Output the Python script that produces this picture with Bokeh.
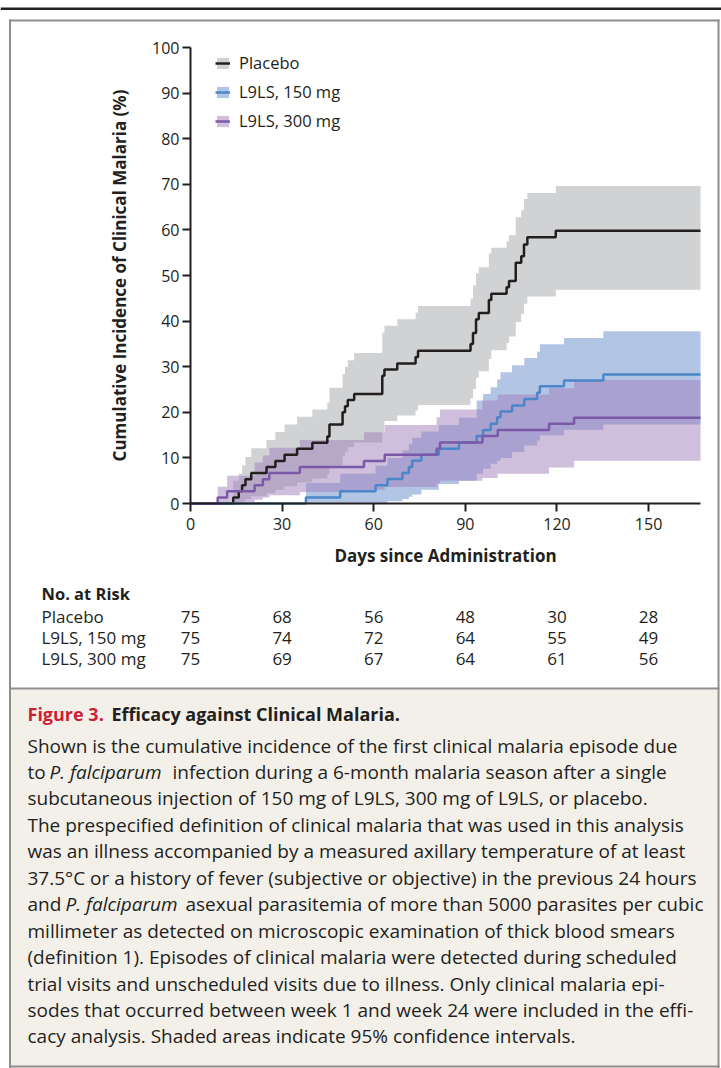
from bokeh.plotting import figure
from bokeh.models import Range1d, FixedTicker, Legend, LegendItem, LinearAxis
from bokeh.core.properties import value
from bokeh.embed import file_html
from bokeh.resources import INLINE

# ---------------- data ----------------
placebo_days = [0, 14.0, 15.8, 16.9, 18.0, 19.9, 24.9, 27.8, 30.8, 34.9, 39.9, 44.8, 45.5, 49.8, 50.6,
                51.5, 53.6, 62.8, 63.5, 67.7, 73.7, 74.5, 91.7, 92.5, 93.5, 94.4, 97.7, 98.5, 103.5,
                104.3, 106.5, 108.3, 109.2, 110.3, 119.6, 167]
placebo_est = [0, 1.3, 2.7, 4.0, 5.3, 6.7, 8.0, 9.3, 10.7, 12.0, 13.3, 14.7, 17.3, 20.0, 21.3,
               22.7, 24.0, 28.0, 29.4, 30.7, 32.1, 33.5, 35.0, 37.4, 40.4, 41.8, 44.6, 46.0, 47.4,
               48.8, 52.8, 54.2, 56.8, 58.4, 59.8, 59.8]
placebo_hi = [0, 5.0, 6.5, 8.4, 10.2, 12.1, 13.9, 15.7, 17.3, 19.0, 20.6, 22.1, 25.4, 28.4, 30.0,
              31.4, 33.0, 37.5, 39.0, 40.4, 41.9, 43.3, 44.9, 47.8, 50.5, 51.8, 54.8, 56.1, 57.5,
              58.8, 62.8, 64.3, 66.8, 68.1, 69.6, 69.6]
placebo_lo = [0, 0, 0.1, 0.5, 1.0, 1.6, 2.3, 3.0, 3.8, 4.6, 5.5, 6.4, 8.3, 10.4, 11.4,
              12.4, 13.4, 15.7, 18.1, 19.3, 20.4, 21.6, 23.0, 25.1, 27.6, 29.0, 31.7, 33.6, 35.2,
              36.6, 39.8, 41.6, 43.8, 45.4, 46.9, 46.9]

l150_days = [0, 37.8, 49.0, 60.6, 64.5, 69.4, 71.5, 72.6, 75.6, 81.3, 87.9, 93.7, 95.8, 98.3,
             100.4, 101.5, 105.3, 109.3, 113.5, 114.4, 122.3, 135.2, 167]
l150_est = [0, 1.3, 2.7, 4.0, 5.4, 6.7, 8.0, 9.4, 10.7, 12.0, 13.4, 14.8, 16.1, 17.5,
            18.9, 20.2, 21.5, 22.9, 24.3, 25.7, 27.0, 28.3, 28.3]
l150_hi = [0, 4.5, 6.5, 8.3, 10.0, 11.6, 13.0, 14.4, 15.8, 17.2, 18.8, 22.6, 24.0, 25.5,
           27.2, 28.8, 30.3, 31.9, 33.3, 34.9, 36.3, 37.8, 37.8]
l150_lo = [0, 0, 0, 0, 0.5, 1.0, 1.5, 2.0, 3.0, 4.3, 5.0, 6.5, 7.6, 8.7,
           9.4, 10.0, 11.3, 12.7, 13.8, 14.9, 16.2, 17.3, 17.3]

l300_days = [0, 8.9, 12.0, 21.0, 23.7, 25.8, 35.8, 56.8, 63.6, 80.6, 81.7, 95.6, 100.6, 117.4, 125.6, 167]
l300_est = [0, 1.3, 2.7, 4.0, 5.3, 6.7, 8.0, 9.3, 10.7, 12.0, 13.4, 14.8, 16.1, 17.5, 18.8, 18.8]
l300_hi = [0, 3.7, 6.1, 9.0, 10.5, 12.2, 13.9, 15.6, 17.2, 18.9, 20.6, 22.6, 23.9, 25.3, 27.1, 27.1]
l300_lo = [0, 0, 0.3, 0.8, 1.3, 1.8, 2.5, 3.0, 3.6, 4.4, 5.0, 5.6, 6.5, 7.9, 9.4, 9.4]

group_labels = ["Placebo", "L9LS, 150 mg", "L9LS, 300 mg"]
risk_days = [0, 30, 60, 90, 120, 150]
risk_placebo = [75, 68, 56, 48, 30, 28]
risk_150 = [75, 74, 72, 64, 55, 49]
risk_300 = [75, 69, 67, 64, 61, 56]
x_ticks = [0, 30, 60, 90, 120, 150]
y_ticks = [0, 10, 20, 30, 40, 50, 60, 70, 80, 90, 100]

caption_title = ["Figure 3.", "Efficacy against Clinical Malaria."]
caption_lines = [
    [("Shown is the cumulative incidence of the first clinical malaria episode due", "normal", 0)],
    [("to", "normal", 0), ("P. falciparum", "italic", 22), ("infection during a 6-month malaria season after a single", "normal", 145)],
    [("subcutaneous injection of 150 mg of L9LS, 300 mg of L9LS, or placebo.", "normal", 0)],
    [("The prespecified definition of clinical malaria that was used in this analysis", "normal", 0)],
    [("was an illness accompanied by a measured axillary temperature of at least", "normal", 0)],
    [("37.5\u00b0C or a history of fever (subjective or objective) in the previous 24 hours", "normal", 0)],
    [("and", "normal", 0), ("P. falciparum", "italic", 38), ("asexual parasitemia of more than 5000 parasites per cubic", "normal", 158)],
    [("millimeter as detected on microscopic examination of thick blood smears", "normal", 0)],
    [("(definition 1). Episodes of clinical malaria were detected during scheduled", "normal", 0)],
    [("trial visits and unscheduled visits due to illness. Only clinical malaria epi-", "normal", 0)],
    [("sodes that occurred between week 1 and week 24 were included in the effi-", "normal", 0)],
    [("cacy analysis. Shaded areas indicate 95% confidence intervals.", "normal", 0)],
]

# ---------------- layout / styling ----------------
FONT = "Open Sans"
INK = "#231f20"
GRAY = "#8e8e8e"
W, H = 721, 1068
AX_X0, AX_X1 = 190, 700      # canvas px of day 0 / day 167
AX_Y0, AX_Y100 = 503, 47     # canvas px of 0 % / 100 %
DAY_MAX = 167
px_day = (AX_X1 - AX_X0) / DAY_MAX
px_pct = (AX_Y0 - AX_Y100) / 100

p = figure(width=W, height=H, output_backend="svg", toolbar_location=None,
           x_axis_type=None, y_axis_type=None,
           x_range=Range1d(-AX_X0 / px_day, (W - AX_X0) / px_day),
           y_range=Range1d(-(H - AX_Y0) / px_pct, AX_Y0 / px_pct),
           min_border=0, min_border_left=0, min_border_right=0, min_border_top=0, min_border_bottom=0)
p.extra_x_ranges = {"px": Range1d(0, W)}
p.extra_y_ranges = {"py": Range1d(H, 0)}
p.outline_line_color = None
p.background_fill_color = "white"
p.border_fill_color = "white"

PX = dict(x_range_name="px", y_range_name="py")

# page decorations
p.quad(left=[0], right=[W], top=[7], bottom=[9.5], fill_color=INK, line_color=None, **PX)
p.quad(left=[10.5], right=[717], top=[689], bottom=[H], fill_color="#f3f0ea", line_color=None, **PX)
p.quad(left=[8.5, 717, 8.5, 8.5, 8.5], right=[10.5, 719, 719, 719, 719],
       top=[19, 19, 19, 687, 1065], bottom=[H, H, 21, 689, 1067],
       fill_color=GRAY, line_color=None, **PX)

# axes
xax = LinearAxis(fixed_location=0, bounds=(0, DAY_MAX), ticker=FixedTicker(ticks=x_ticks),
                 axis_label="Days since Administration")
yax = LinearAxis(fixed_location=0, bounds=(0, 100), ticker=FixedTicker(ticks=y_ticks),
                 axis_label="Cumulative Incidence of Clinical Malaria (%)")
for ax in (xax, yax):
    ax.axis_line_color = INK
    ax.axis_line_width = 2
    ax.major_tick_line_color = INK
    ax.major_tick_line_width = 2
    ax.major_tick_in = 0
    ax.major_tick_out = 8
    ax.minor_tick_line_color = None
    ax.major_label_text_font = FONT
    ax.major_label_text_font_size = "16px"
    ax.major_label_text_color = INK
    ax.axis_label_text_font = FONT
    ax.axis_label_text_font_size = "17px"
    ax.axis_label_text_font_style = "bold"
    ax.axis_label_text_color = INK
xax.major_label_standoff = 6
xax.axis_label_standoff = 11
yax.major_label_standoff = 3
yax.axis_label_standoff = 18
p.add_layout(xax, "below")
p.add_layout(yax, "left")

# confidence bands
b0 = p.varea_step(x=placebo_days, y1=placebo_lo, y2=placebo_hi, step_mode="after",
                  fill_color="#d1d2d4", fill_alpha=1.0)
b1 = p.varea_step(x=l150_days, y1=l150_lo, y2=l150_hi, step_mode="after",
                  fill_color="#678bc9", fill_alpha=0.5)
b2 = p.varea_step(x=l300_days, y1=l300_lo, y2=l300_hi, step_mode="after",
                  fill_color="#9f7db9", fill_alpha=0.5)
# cumulative incidence estimates
l0 = p.step(x=placebo_days, y=placebo_est, mode="after", line_color=INK, line_width=2.5)
l1 = p.step(x=l150_days, y=l150_est, mode="after", line_color="#4a86c8", line_width=2.5)
l2 = p.step(x=l300_days, y=l300_est, mode="after", line_color="#7a5aa8", line_width=2.5)

legend = Legend(items=[LegendItem(label=group_labels[0], renderers=[b0, l0]),
                       LegendItem(label=group_labels[1], renderers=[b1, l1]),
                       LegendItem(label=group_labels[2], renderers=[b2, l2])],
                location=(215, 936), padding=0, margin=0, spacing=6,
                label_height=20, glyph_height=14, glyph_width=15, label_standoff=9,
                border_line_color=None, background_fill_alpha=0,
                label_text_font=FONT, label_text_font_size="16.5px", label_text_color=INK)
p.add_layout(legend)


def ptext(xs, ys, texts, size, color=INK, style="normal", align="left", use_days=False):
    kw = dict(y_range_name="py")
    if not use_days:
        kw["x_range_name"] = "px"
    p.text(x=xs, y=ys, text=texts, text_font=value(FONT), text_font_size=value(f"{size}px"),
           text_font_style=value(style), text_color=value(color), text_align=value(align),
           text_baseline=value("middle"), **kw)


# risk table
ptext([41], [593], ["No. at Risk"], 16.5, style="bold")
rows = [risk_placebo, risk_150, risk_300]
for i, (name, vals) in enumerate(zip(group_labels, rows)):
    yy = 616 + 21 * i
    ptext([41], [yy], [name], 17)
    ptext(risk_days, [yy] * len(vals), [str(v) for v in vals], 17, align="center", use_days=True)

# caption
CAP = 19
ptext([27], [713], [caption_title[0]], 18, color="#cc1f36", style="bold")
ptext([111], [713], [caption_title[1]], 18, style="bold")
for i, segs in enumerate(caption_lines):
    yy = 745 + 26.45 * i
    for text, style, dx in segs:
        ptext([27 + dx], [yy], [text], CAP, style=style)

open("out.html", "w").write(file_html(p, INLINE))
